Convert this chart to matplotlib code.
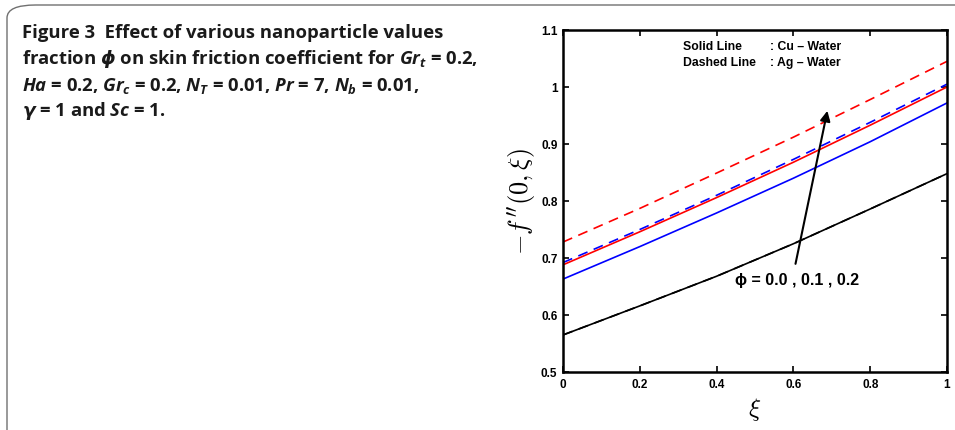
import numpy as np
import matplotlib
matplotlib.use('Agg')
import matplotlib.pyplot as plt
from matplotlib.patches import FancyBboxPatch

plt.rcParams['mathtext.fontset'] = 'custom'
plt.rcParams['mathtext.it'] = 'Open Sans:italic:bold'
plt.rcParams['mathtext.rm'] = 'Open Sans:bold'
plt.rcParams['mathtext.bf'] = 'Open Sans:bold'
plt.rcParams['mathtext.sf'] = 'DejaVu Sans:italic:bold'

# data
xi = [0.0, 0.2, 0.4, 0.6, 0.8, 1.0]
cu_phi0 = [0.565, 0.616, 0.668, 0.725, 0.786, 0.848]
cu_phi1 = [0.663, 0.720, 0.779, 0.840, 0.904, 0.972]
cu_phi2 = [0.688, 0.746, 0.806, 0.868, 0.933, 1.000]
ag_phi0 = [0.565, 0.616, 0.668, 0.725, 0.786, 0.848]
ag_phi1 = [0.692, 0.750, 0.810, 0.873, 0.938, 1.005]
ag_phi2 = [0.728, 0.787, 0.849, 0.912, 0.978, 1.045]

xticks = [0, 0.2, 0.4, 0.6, 0.8, 1]
xtick_labels = ['0', '0.2', '0.4', '0.6', '0.8', '1']
yticks = [0.5, 0.6, 0.7, 0.8, 0.9, 1.0, 1.1]
ytick_labels = ['0.5', '0.6', '0.7', '0.8', '0.9', '1', '1.1']

W, H = 955, 431
fig = plt.figure(figsize=(W / 100, H / 100), dpi=100)

# rounded frame of the figure panel
frame = FancyBboxPatch((7 / W, -0.2), 1.2, (H - 6) / H + 0.2,
                       boxstyle='round,pad=0,rounding_size=0.03',
                       transform=fig.transFigure, fill=False,
                       edgecolor='#707070', lw=1.0, clip_on=False)
fig.patches.append(frame)

# caption
cap = [
    (r'Figure 3  Effect of various nanoparticle values'),
    (r'fraction $\mathsf{\phi}$ on skin friction coefficient for $Gr_t$ = 0.2,'),
    (r'$Ha$ = 0.2, $Gr_c$ = 0.2, $N_T$ = 0.01, $Pr$ = 7, $N_b$ = 0.01,'),
    (r'$\mathsf{\gamma}$ = 1 and $Sc$ = 1.'),
]
for i, line in enumerate(cap):
    fig.text(22 / W, 1 - (38.5 + 26 * i) / H, line, family='Open Sans',
             fontweight='bold', fontsize=13.3, color='#1a1a1a',
             va='baseline', ha='left')

ax = fig.add_axes([563 / W, (H - 373) / H, (947 - 563) / W, (373 - 31) / H])

ax.plot(xi, ag_phi0, 'k--', lw=1.2, dashes=(6, 4))
ax.plot(xi, ag_phi1, 'b--', lw=1.2, dashes=(6, 4))
ax.plot(xi, ag_phi2, 'r--', lw=1.2, dashes=(6, 4))
ax.plot(xi, cu_phi0, 'k-', lw=1.2)
ax.plot(xi, cu_phi1, 'b-', lw=1.2)
ax.plot(xi, cu_phi2, 'r-', lw=1.2)

ax.set_xlim(0, 1)
ax.set_ylim(0.5, 1.1)
ax.set_xticks(xticks)
ax.set_xticklabels(xtick_labels)
ax.set_yticks(yticks)
ax.set_yticklabels(ytick_labels)
ax.tick_params(direction='in', top=True, right=True, length=4, width=1.2,
               labelsize=8.5, pad=4)
for lab in ax.get_xticklabels() + ax.get_yticklabels():
    lab.set_fontweight('bold')
    lab.set_family('Liberation Sans')
for s in ax.spines.values():
    s.set_linewidth(1.8)

ax.set_xlabel(r'$\xi$', fontsize=18, math_fontfamily='cm', labelpad=4)
ax.set_ylabel(r"$-f\,''(0,\xi)$", fontsize=19, math_fontfamily='cm', labelpad=2)

# legend text
lfont = dict(fontsize=8.8, fontweight='bold', family='Liberation Sans', va='center')
ax.text(0.3125, 1.072, 'Solid Line', **lfont)
ax.text(0.539, 1.072, ': Cu \u2013 Water', **lfont)
ax.text(0.3125, 1.044, 'Dashed Line', **lfont)
ax.text(0.539, 1.044, ': Ag \u2013 Water', **lfont)

# arrow and phi annotation
ax.annotate('', xy=(0.690, 0.963), xytext=(0.604, 0.685),
            arrowprops=dict(arrowstyle='-|>', color='k', lw=1.5,
                            mutation_scale=15))
ax.text(0.61, 0.662, '\u03d5 = 0.0 , 0.1 , 0.2', fontsize=11.5,
        fontweight='bold', family=['Liberation Sans', 'DejaVu Sans'],
        ha='center', va='center')

fig.savefig('out.png', dpi=100)
